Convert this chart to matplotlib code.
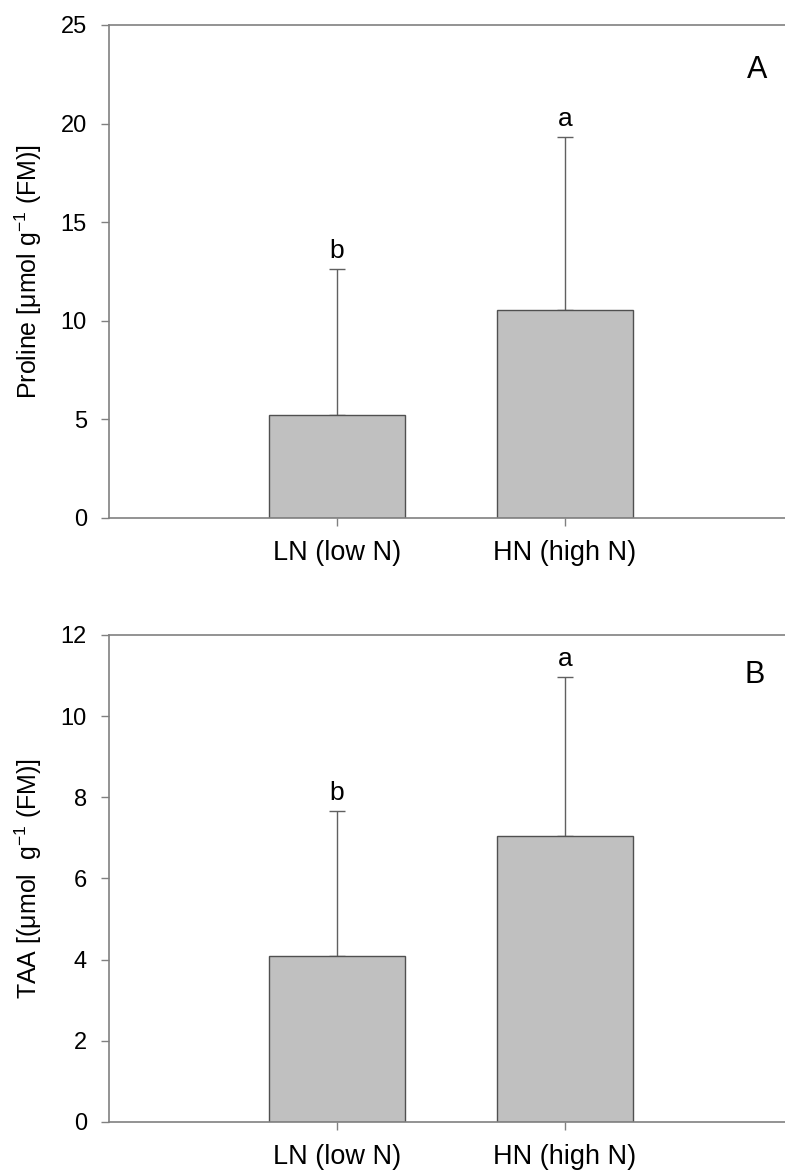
import matplotlib.pyplot as plt
import numpy as np

plt.rcParams['font.family'] = ['Liberation Sans', 'DejaVu Sans']

groups = ['LN (low N)', 'HN (high N)']

proline_mean = [5.22, 10.55]
proline_err = [7.41, 8.77]
proline_sig = ['b', 'a']

taa_mean = [4.10, 7.05]
taa_err = [3.57, 3.92]
taa_sig = ['b', 'a']

bar_color = '#c0c0c0'
edge_color = '#505050'
axis_color = '#808080'


def draw_panel(ax, means, errs, sig, ylim, yticks, ylabel, tag, tag_xy):
    x = np.arange(1, len(means) + 1)
    ax.bar(x, means, width=0.6, color=bar_color, edgecolor=edge_color,
           linewidth=1.0, zorder=2)
    ax.errorbar(x, means, yerr=[np.zeros(len(errs)), errs], fmt='none',
                ecolor='#606060', elinewidth=1.0, capsize=6, capthick=1.0,
                zorder=1)
    for xi, m, e, s in zip(x, means, errs, sig):
        ax.annotate(s, xy=(xi, m + e), xytext=(0, 11),
                    textcoords='offset pixels', ha='center', va='baseline',
                    fontsize=19)
    ax.text(tag_xy[0], tag_xy[1], tag, transform=ax.transAxes, ha='center',
            va='center', fontsize=22)
    ax.set_xlim(0, 3)
    ax.set_ylim(*ylim)
    ax.set_yticks(yticks)
    ax.set_xticks(x)
    ax.set_xticklabels(groups)
    ax.set_ylabel(ylabel, fontsize=18, labelpad=12)
    ax.tick_params(axis='both', colors=axis_color, labelcolor='black',
                   labelsize=17, length=6, width=1, direction='out')
    ax.tick_params(axis='x', pad=10, labelsize=19.5)
    ax.tick_params(axis='y', pad=10)
    for side in ['left', 'bottom', 'top']:
        ax.spines[side].set_color(axis_color)
        ax.spines[side].set_linewidth(1.2)
    ax.spines['right'].set_visible(False)


fig = plt.figure(figsize=(7.85, 11.73), dpi=100)
ax1 = fig.add_axes([0.1389, 0.5584, 0.8713, 0.4203])
ax2 = fig.add_axes([0.1389, 0.0435, 0.8713, 0.4152])

draw_panel(ax1, proline_mean, proline_err, proline_sig, (0, 25),
           [0, 5, 10, 15, 20, 25],
           r'Proline [$\mathregular{\mu}$mol g$^{\mathregular{-1}}$ (FM)]', 'A',
           (0.947, 0.909))
draw_panel(ax2, taa_mean, taa_err, taa_sig, (0, 12),
           [0, 2, 4, 6, 8, 10, 12],
           r'TAA [($\mathregular{\mu}$mol  g$^{\mathregular{-1}}$ (FM)]', 'B',
           (0.944, 0.918))

fig.savefig('out.png', dpi=100)
